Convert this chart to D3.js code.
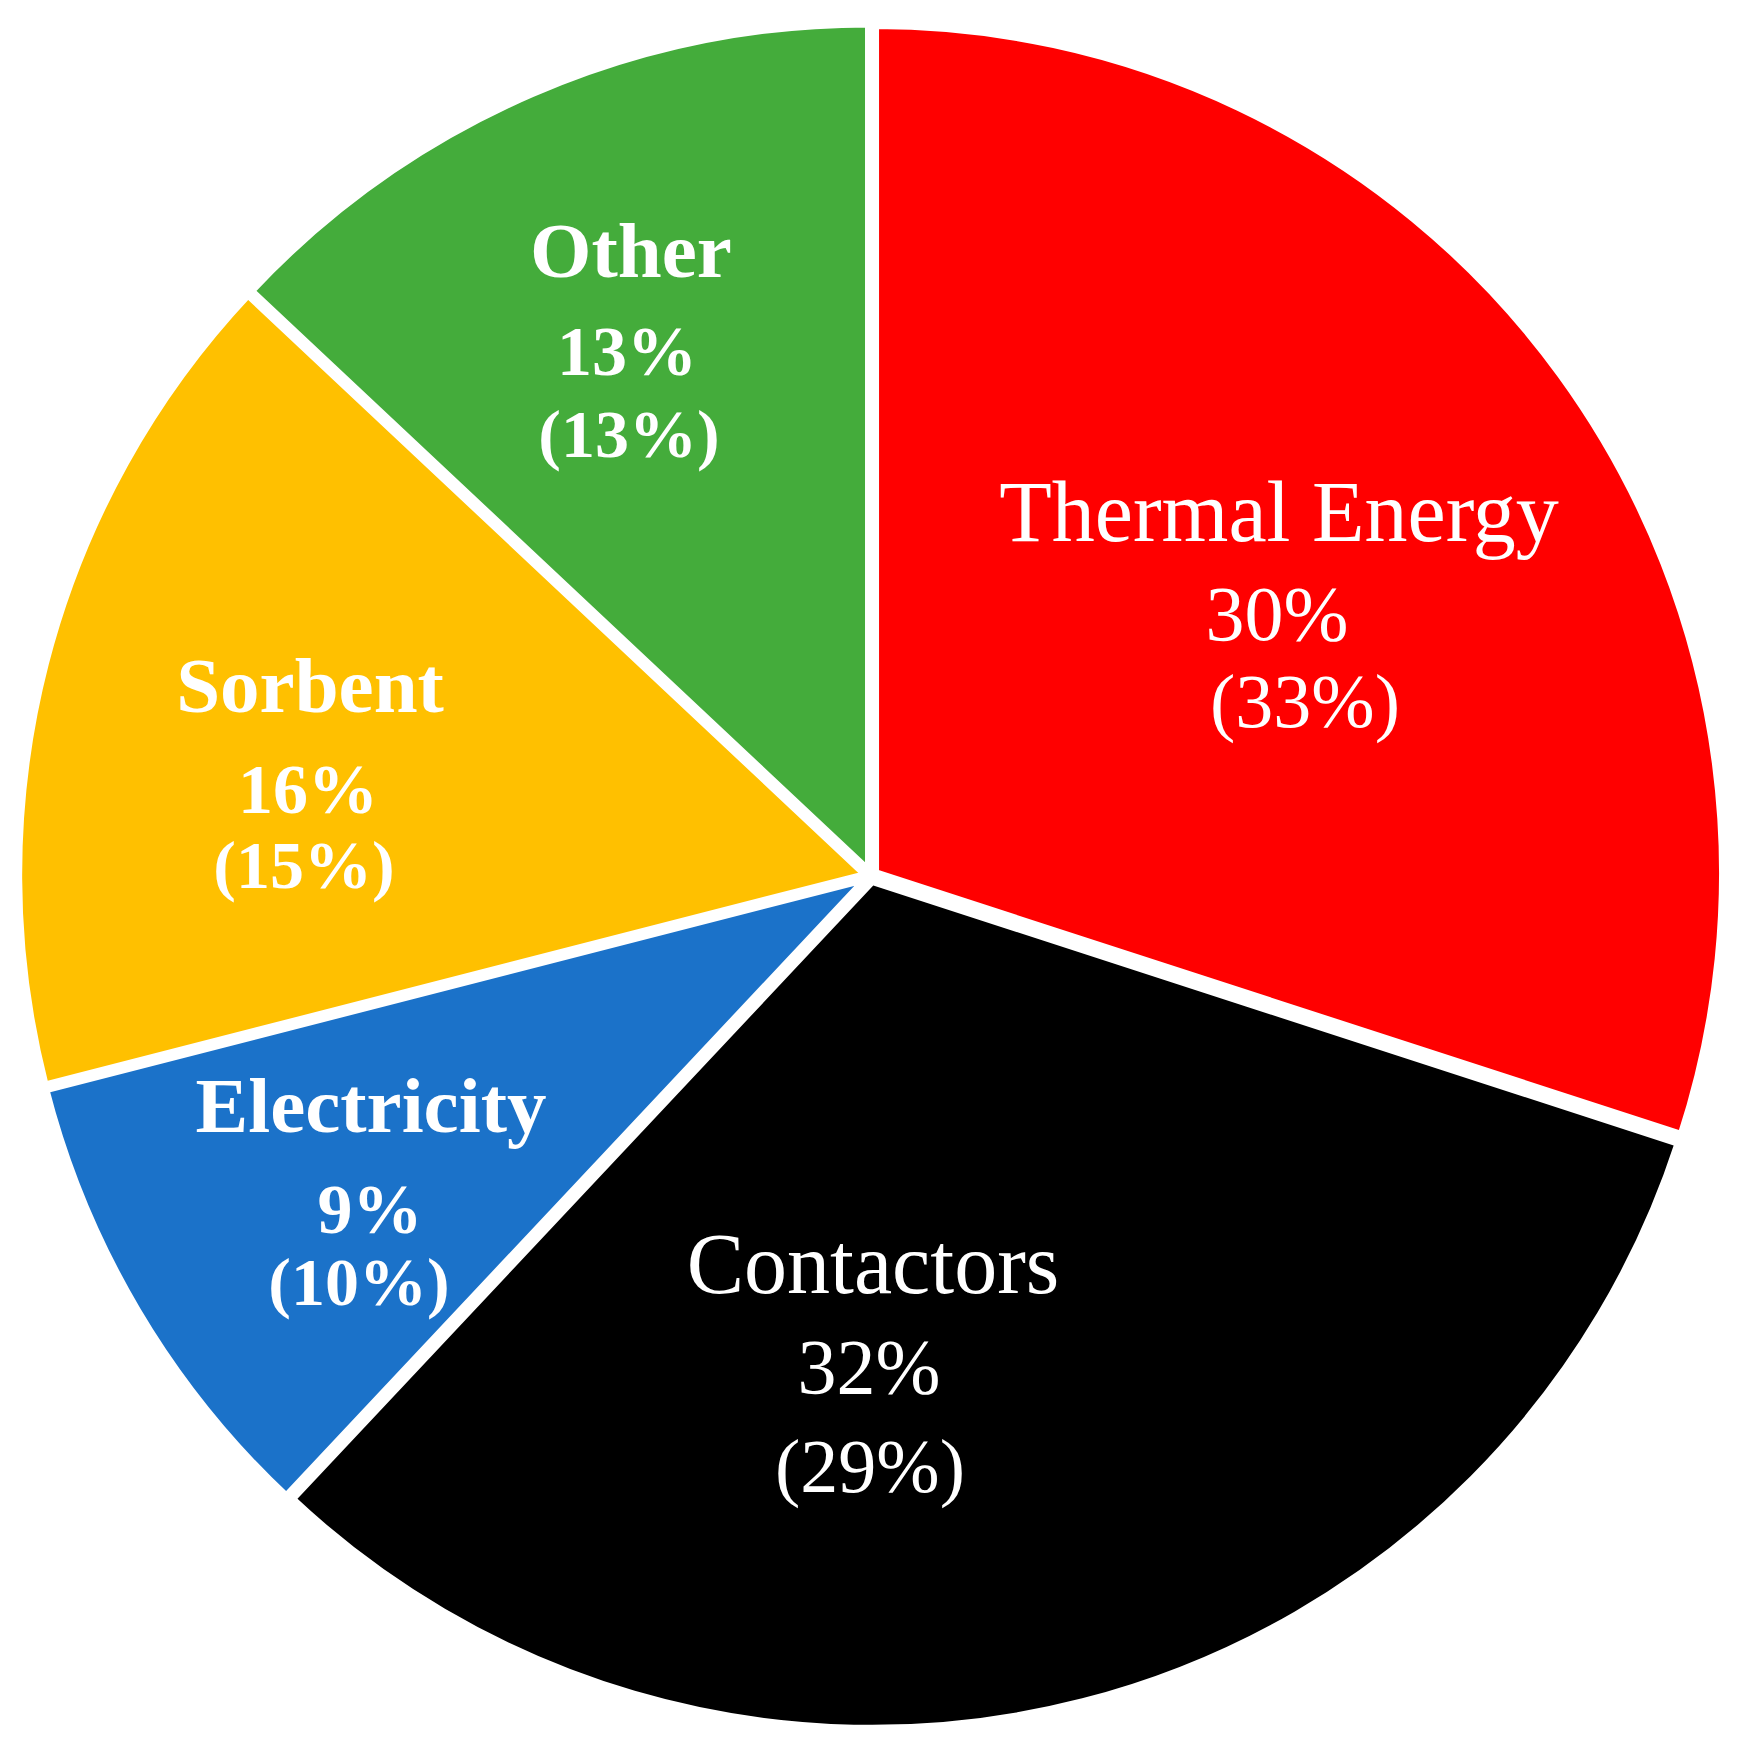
<!DOCTYPE html>
<html>
<head>
<meta charset="utf-8">
<script src="https://cdn.jsdelivr.net/npm/d3@7"></script>
<style>
  html, body { margin: 0; padding: 0; background: #fff; }
  svg { display: block; }
</style>
</head>
<body>
<svg id="chart" width="1743" height="1753"></svg>
<script>
// ---- data ----
const categories = ["Thermal Energy", "Contactors", "Electricity", "Sorbent", "Other"];
const shares = [30, 32, 9, 16, 13];          // main percentage
const altShares = [33, 29, 10, 15, 13];      // value in parentheses

// ---- styling / layout (not data) ----
const colors = ["#FF0000", "#000000", "#1B72C9", "#FFC000", "#44AC3B"];
const boldLabel = [false, false, true, true, true];
// per-slice label anchor (x of centre, baselines of the three lines)
const labelLayout = [
  { x: [1279, 1277, 1305], y: [541, 640, 727] },
  { x: [873, 869, 870],    y: [1293, 1393, 1492] },
  { x: [371, 370, 359],    y: [1132, 1233, 1305] },
  { x: [310, 308, 304],    y: [712, 813, 888] },
  { x: [631, 627, 629],    y: [277, 375, 457] }
];

const W = 1743, H = 1753;
const cx = 871, cy = 876, R = 848, explode = 5;

const svg = d3.select("#chart");
const g = svg.append("g").attr("transform", `translate(${cx},${cy})`);

const data = categories.map((c, i) => ({ name: c, share: shares[i], alt: altShares[i], i }));
const pie = d3.pie().sort(null).value(d => d.share).startAngle(0).endAngle(2 * Math.PI);
const arcs = pie(data);
const arc = d3.arc().innerRadius(0).outerRadius(R);

g.selectAll("path.slice")
  .data(arcs)
  .join("path")
  .attr("class", "slice")
  .attr("d", arc)
  .attr("fill", d => colors[d.data.i])
  .attr("stroke", "#fff")
  .attr("stroke-width", 8)
  .attr("stroke-linejoin", "miter")
  .attr("transform", d => {
    const a = (d.startAngle + d.endAngle) / 2;
    return `translate(${explode * Math.sin(a)},${-explode * Math.cos(a)})`;
  });

// ---- labels ----
const font = "'Liberation Serif', 'Times New Roman', serif";
const lbl = svg.append("g").attr("fill", "#fff").attr("font-family", font).attr("text-anchor", "middle");

data.forEach((d, i) => {
  const L = labelLayout[i];
  const bold = boldLabel[i];
  const lines = [d.name, `${d.share}%`, `(${d.alt}%)`];
  const sizes = bold ? [79, 70, 68] : [86, 78, 76];
  lines.forEach((t, k) => {
    lbl.append("text")
      .attr("x", L.x[k])
      .attr("y", L.y[k])
      .attr("font-size", sizes[k])
      .attr("font-weight", bold ? "bold" : "normal")
      .text(t);
  });
});
</script>
</body>
</html>
